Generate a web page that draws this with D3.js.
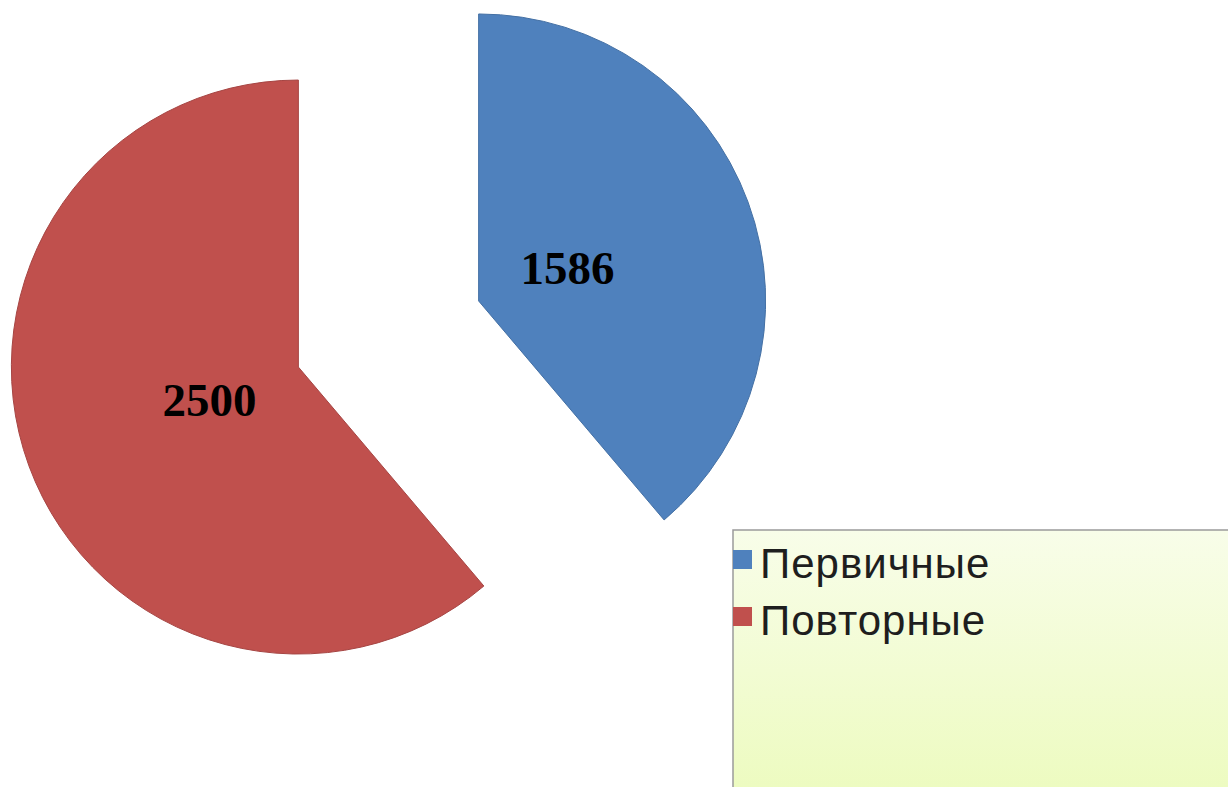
<!DOCTYPE html>
<html>
<head>
<meta charset="utf-8">
<script src="https://cdn.jsdelivr.net/npm/d3@7"></script>
<style>
  body { margin: 0; background: #fff; }
  svg { display: block; }
</style>
</head>
<body>
<svg width="1228" height="787"></svg>
<script>
var categories = ["Первичные", "Повторные"];
var values = [1586, 2500];
var colors = ["#4f81bd", "#c0504d"];

var svg = d3.select("svg"),
  cx = 388.5, cy = 334,
  radius = 287,
  explode = 96;

var pie = d3.pie().sort(null).value(function(d) { return d; });
var arc = d3.arc().innerRadius(0).outerRadius(radius);
var labelArc = d3.arc().innerRadius(0).outerRadius(radius * 0.66);

var arcs = pie(values);

var g = svg.append("g")
  .attr("transform", "translate(" + cx + "," + cy + ")");

var slice = g.selectAll("g.slice")
  .data(arcs)
  .enter().append("g")
    .attr("class", "slice")
    .attr("transform", function(d) {
      var a = (d.startAngle + d.endAngle) / 2;
      return "translate(" + (Math.sin(a) * explode) + "," + (-Math.cos(a) * explode) + ")";
    });

slice.append("path")
  .attr("d", arc)
  .attr("fill", function(d, i) { return colors[i]; })
  .attr("stroke", function(d, i) { return d3.color(colors[i]).darker(0.4); })
  .attr("stroke-width", 1);

slice.append("text")
  .attr("transform", function(d) { return "translate(" + labelArc.centroid(d) + ")"; })
  .attr("text-anchor", "middle")
  .attr("dy", "0.34em")
  .attr("font-family", "'Liberation Serif', 'Times New Roman', serif")
  .attr("font-weight", "bold")
  .attr("font-size", 47)
  .attr("fill", "#000")
  .text(function(d) { return d.data; });

// legend
var defs = svg.append("defs");
var grad = defs.append("linearGradient")
  .attr("id", "legendFill")
  .attr("x1", 0).attr("y1", 0).attr("x2", 0).attr("y2", 1);
grad.append("stop").attr("offset", "0%").attr("stop-color", "#f8fde9");
grad.append("stop").attr("offset", "100%").attr("stop-color", "#ecfbbd");

var legend = svg.append("g")
  .attr("transform", "translate(733,530)");

legend.append("rect")
  .attr("width", 520)
  .attr("height", 280)
  .attr("fill", "url(#legendFill)")
  .attr("stroke", "#9a9a9a")
  .attr("stroke-width", 1.5);

var item = legend.selectAll("g.item")
  .data(categories)
  .enter().append("g")
    .attr("class", "item")
    .attr("transform", function(d, i) { return "translate(0," + (48 + i * 57) + ")"; });

item.append("rect")
  .attr("x", 0)
  .attr("y", -28)
  .attr("width", 19)
  .attr("height", 19)
  .attr("fill", function(d, i) { return colors[i]; });

item.append("text")
  .attr("x", 27)
  .attr("y", 0)
  .attr("font-family", "'Liberation Sans', Arial, sans-serif")
  .attr("font-size", 42)
  .attr("letter-spacing", 1)
  .attr("fill", "#1e1e1e")
  .text(function(d) { return d; });
</script>
</body>
</html>
